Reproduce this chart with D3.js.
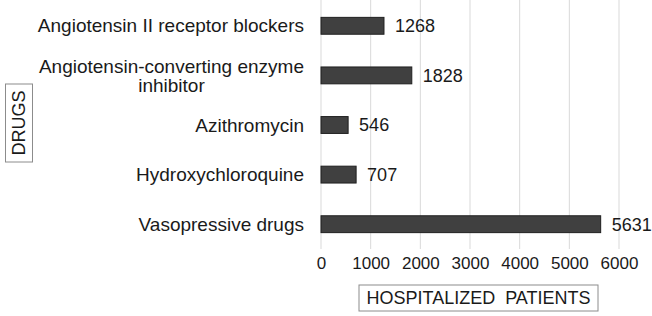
<!DOCTYPE html>
<html>
<head>
<meta charset="utf-8">
<script src="https://cdn.jsdelivr.net/npm/d3@7"></script>
<style>
  body { margin: 0; background: #fff; }
  text { font-family: "Liberation Sans", Arial, sans-serif; fill: #1a1a1a; }
</style>
</head>
<body>
<svg id="chart"></svg>
<script>
// chart data
var drugs = [
  "Angiotensin II receptor blockers",
  "Angiotensin-converting enzyme\ninhibitor",
  "Azithromycin",
  "Hydroxychloroquine",
  "Vasopressive drugs"
];
var patients = [1268, 1828, 546, 707, 5631];
var xTicks = [0, 1000, 2000, 3000, 4000, 5000, 6000];
var xTitle = "HOSPITALIZED  PATIENTS";
var yTitle = "DRUGS";

width = 652;
height = 316;

svg = d3.select("#chart")
  .attr("width", width)
  .attr("height", height);

const xScale = d3.scaleLinear()
  .domain([0, 6000])
  .range([321, 619]);

const yScale = d3.scaleBand()
  .domain(drugs)
  .range([1, 249])
  .paddingInner(0.66)
  .paddingOuter(0.33);

// gridlines
svg.append("g")
  .selectAll("line")
  .data(xTicks)
  .enter()
  .append("line")
  .attr("x1", d => xScale(d))
  .attr("x2", d => xScale(d))
  .attr("y1", 0)
  .attr("y2", 249)
  .attr("stroke", "#d9d9d9")
  .attr("stroke-width", 1);

// x tick labels
const xAxis = d3.axisBottom(xScale).tickValues(xTicks).tickSize(0).tickPadding(0).tickFormat(d3.format("d"));
const gx = svg.append("g").attr("transform", "translate(0, 257)").call(xAxis);
gx.select(".domain").remove();
gx.selectAll("text")
  .style("font-size", "17px")
  .style("font-family", "'Liberation Sans', Arial, sans-serif")
  .attr("fill", "#1a1a1a")
  .attr("dy", "0.71em");

// bars
svg.append("g")
  .selectAll("rect")
  .data(drugs)
  .enter()
  .append("rect")
  .attr("x", xScale(0))
  .attr("y", d => yScale(d))
  .attr("width", (d, i) => xScale(patients[i]) - xScale(0))
  .attr("height", yScale.bandwidth())
  .attr("fill", "#404040")
  .attr("stroke", "#1f1f1f")
  .attr("stroke-width", 1);

// value labels
svg.append("g")
  .selectAll("text")
  .data(drugs)
  .enter()
  .append("text")
  .attr("x", (d, i) => xScale(patients[i]) + 11)
  .attr("y", d => yScale(d) + yScale.bandwidth() / 2)
  .attr("dy", "0.35em")
  .style("font-size", "18px")
  .text((d, i) => patients[i]);

// category labels (multi-line ones are centred on each other, block right aligned)
const labelRight = 304;
drugs.forEach(function(d) {
  const lines = d.split("\n");
  const cy = yScale(d) + yScale.bandwidth() / 2;
  const lineH = 19;
  const t = svg.append("text")
    .style("font-size", "19px")
    .attr("text-anchor", "middle");
  lines.forEach(function(l, j) {
    t.append("tspan")
      .attr("x", 0)
      .attr("y", cy + (j - (lines.length - 1) / 2) * lineH)
      .attr("dy", "0.35em")
      .text(l);
  });
  const w = t.node().getBBox().width;
  t.selectAll("tspan").attr("x", labelRight - w / 2);
});

// y axis title box
const yt = svg.append("g").attr("transform", "translate(19, 123)");
yt.append("rect")
  .attr("x", -13.5).attr("y", -39)
  .attr("width", 27).attr("height", 78)
  .attr("fill", "#fff")
  .attr("stroke", "#8c8c8c");
yt.append("text")
  .attr("transform", "rotate(-90)")
  .attr("text-anchor", "middle")
  .attr("dy", "0.35em")
  .style("font-size", "18px")
  .text(yTitle);

// x axis title box
const xt = svg.append("g").attr("transform", "translate(478.5, 298)");
xt.append("rect")
  .attr("x", -119.5).attr("y", -13)
  .attr("width", 239).attr("height", 26)
  .attr("fill", "#fff")
  .attr("stroke", "#8c8c8c");
xt.append("text")
  .attr("text-anchor", "middle")
  .attr("dy", "0.35em")
  .style("font-size", "18px")
  .style("white-space", "pre")
  .text(xTitle);
</script>
</body>
</html>
